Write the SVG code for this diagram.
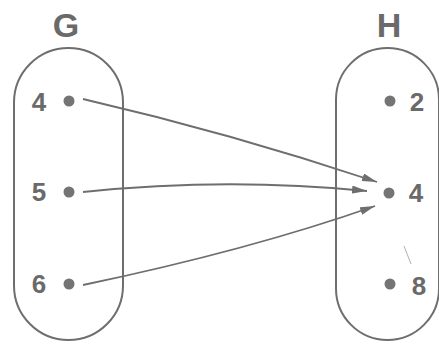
<svg xmlns="http://www.w3.org/2000/svg" width="439" height="344" viewBox="0 0 439 344">
  <style>
    .set { fill: none; stroke: #6e6e6e; stroke-width: 2; }
    .title { font-family: "Liberation Sans", Arial, sans-serif; font-weight: bold; font-size: 34px; fill: #6a6a6a; text-anchor: middle; }
    .num { font-family: "Liberation Sans", Arial, sans-serif; font-weight: bold; font-size: 26px; fill: #6a6a6a; text-anchor: middle; }
    .dot { fill: #747474; }
    .edge { fill: none; stroke: #6e6e6e; stroke-width: 1.8; marker-end: url(#head); }
  </style>
  <defs>
    <marker id="head" markerUnits="userSpaceOnUse" markerWidth="17" markerHeight="10" refX="15" refY="4" orient="auto">
      <path d="M0,0 L15,4 L0,8 Z" fill="#6e6e6e"/>
    </marker>
  </defs>
  <rect width="439" height="344" fill="#ffffff"/>

  <!-- set G -->
  <g id="set-G">
    <rect class="set" x="14" y="48" width="109" height="292" rx="54.5" ry="54.5"/>
    <text class="title" x="66" y="37">G</text>
  </g>
  <g id="G-4">
    <circle class="dot" cx="69" cy="101" r="5.5"/>
    <text class="num" x="39" y="111">4</text>
  </g>
  <g id="G-5">
    <circle class="dot" cx="69" cy="192" r="5.5"/>
    <text class="num" x="39" y="201">5</text>
  </g>
  <g id="G-6">
    <circle class="dot" cx="69" cy="284" r="5.5"/>
    <text class="num" x="39" y="293">6</text>
  </g>

  <!-- set H -->
  <g id="set-H">
    <rect class="set" x="336" y="48" width="103" height="292" rx="51.5" ry="51.5"/>
    <text class="title" x="389" y="37">H</text>
  </g>
  <g id="H-2">
    <circle class="dot" cx="390" cy="101" r="5.5"/>
    <text class="num" x="417" y="111">2</text>
  </g>
  <g id="H-4">
    <circle class="dot" cx="389" cy="193" r="5.5"/>
    <text class="num" x="416" y="202">4</text>
  </g>
  <g id="H-8">
    <circle class="dot" cx="390" cy="284" r="5.5"/>
    <line x1="404" y1="246" x2="411" y2="264" stroke="#b0b0b0" stroke-width="1"/>
    <text class="num" x="419" y="295">8</text>
  </g>

  <!-- mapping arrows -->
  <g id="connectors">
    <path class="edge" d="M83,99 Q230,133 377,182"/>
    <path class="edge" d="M83,192 Q226,177 367,191"/>
    <path class="edge" d="M83,285 Q250,250 375,206"/>
  </g>
</svg>
